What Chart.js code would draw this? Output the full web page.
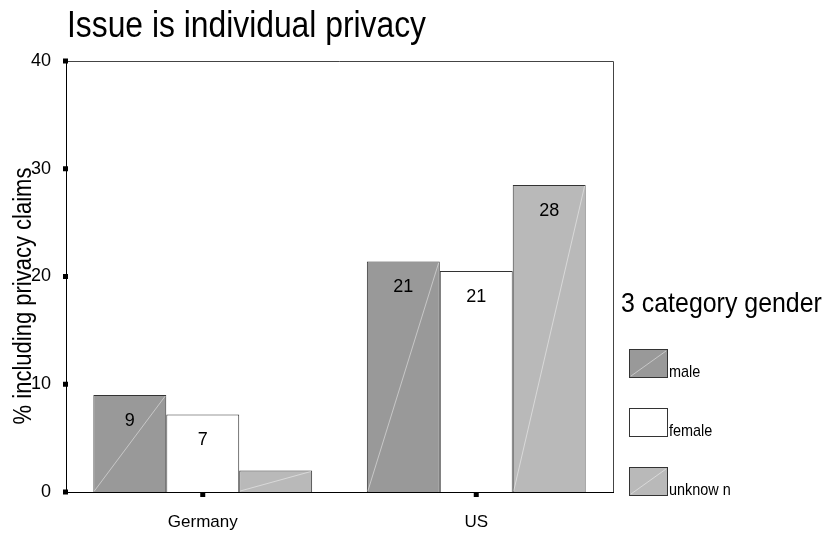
<!DOCTYPE html>
<html>
<head>
<meta charset="utf-8">
<script src="https://cdn.jsdelivr.net/npm/chart.js@4/dist/chart.umd.min.js"></script>
<style>
  html, body { margin: 0; padding: 0; background: #fff; }
  #wrap { width: 827px; height: 537px; }
</style>
</head>
<body>
<div id="wrap"><canvas id="privacyChart" width="827" height="537"></canvas></div>
<script>
// Data
const categories = ['Germany', 'US'];
const seriesNames = ['male', 'female', 'unknow n'];
const maleValues = [9.0, 21.4];
const femaleValues = [7.2, 20.5];
const unknownValues = [2.0, 28.5];
const maleLabels = ['9', '21'];
const femaleLabels = ['7', '21'];
const unknownLabels = ['', '28'];
const yTicks = [0, 10, 20, 30, 40];

const FONT = '"Liberation Sans", Arial, sans-serif';
const colors = ['#999999', '#ffffff', '#b9b9b9'];
const barLabels = [maleLabels, femaleLabels, unknownLabels];

// text squeezed horizontally, like the old SPSS output
function narrowText(c, text, x, y, size, sx, align) {
    c.save();
    c.font = size + 'px ' + FONT;
    c.translate(x, y);
    c.scale(sx, 1);
    c.textAlign = align || 'left';
    c.fillText(text, 0, 0);
    c.restore();
}

// Draws title, frame, tick squares, bar labels, hatch lines and legend
const decorations = {
    id: 'decorations',
    afterDatasetsDraw(chart) {
        const c = chart.ctx;
        const area = chart.chartArea;
        const yScale = chart.scales.y;
        const xScale = chart.scales.x;
        c.save();

        // diagonal hatch line in grey bars
        chart.data.datasets.forEach((ds, i) => {
            if (i === 1) return;
            chart.getDatasetMeta(i).data.forEach(bar => {
                const left = bar.x - bar.width / 2;
                const right = bar.x + bar.width / 2;
                c.strokeStyle = 'rgba(255,255,255,0.45)';
                c.lineWidth = 1;
                c.beginPath();
                c.moveTo(left + 1, bar.base - 1);
                c.lineTo(right - 1, bar.y + 1);
                c.stroke();
            });
        });

        // value labels inside bars
        c.fillStyle = '#000';
        c.font = '18px ' + FONT;
        c.textAlign = 'center';
        c.textBaseline = 'middle';
        chart.data.datasets.forEach((ds, i) => {
            chart.getDatasetMeta(i).data.forEach((bar, j) => {
                const txt = barLabels[i][j];
                if (txt) c.fillText(txt, bar.x, bar.y + 26);
            });
        });

        // frame: top and right
        c.strokeStyle = '#444';
        c.lineWidth = 1;
        c.beginPath();
        c.moveTo(area.left, area.top + 0.5);
        c.lineTo(area.right + 0.5, area.top + 0.5);
        c.lineTo(area.right + 0.5, area.bottom);
        c.stroke();

        // tick squares
        c.fillStyle = '#000';
        yTicks.forEach(v => {
            const py = yScale.getPixelForValue(v);
            c.fillRect(area.left - 3, py - 2.5, 5, 5);
        });
        categories.forEach((cat, j) => {
            const px = xScale.getPixelForValue(j);
            c.fillRect(px - 2.5, area.bottom, 5, 5);
        });

        // chart title
        c.fillStyle = '#000';
        c.textBaseline = 'alphabetic';
        narrowText(c, 'Issue is individual privacy', 67, 37, 37, 0.86);

        // y axis title (overlaps tick labels as in the original)
        c.save();
        c.translate(24, 296);
        c.rotate(-Math.PI / 2);
        c.textBaseline = 'middle';
        narrowText(c, '% including privacy claims', 0, 0, 25, 0.88, 'center');
        c.restore();

        // legend
        c.textBaseline = 'alphabetic';
        narrowText(c, '3 category gender', 621, 312, 28, 0.89);
        const boxTops = [349, 408, 467];
        seriesNames.forEach((name, i) => {
            const top = boxTops[i];
            c.fillStyle = colors[i];
            c.fillRect(629, top, 38, 28);
            c.strokeStyle = '#333';
            c.strokeRect(629.5, top + 0.5, 38, 28);
            if (i !== 1) {
                c.strokeStyle = 'rgba(255,255,255,0.45)';
                c.beginPath();
                c.moveTo(631, top + 27);
                c.lineTo(666, top + 2);
                c.stroke();
            }
            c.fillStyle = '#000';
            narrowText(c, name, 669, top + 28, 17, 0.85);
        });

        c.restore();
    }
};

const ctx = document.getElementById('privacyChart').getContext('2d');

const myChart = new Chart(ctx, {
    type: 'bar',
    data: {
        labels: categories,
        datasets: [
            { label: seriesNames[0], data: maleValues, backgroundColor: colors[0], borderColor: '#333', borderWidth: 1 },
            { label: seriesNames[1], data: femaleValues, backgroundColor: colors[1], borderColor: '#333', borderWidth: 1 },
            { label: seriesNames[2], data: unknownValues, backgroundColor: colors[2], borderColor: '#333', borderWidth: 1 }
        ]
    },
    options: {
        responsive: false,
        animation: false,
        devicePixelRatio: 1,
        layout: {
            padding: { top: 61, right: 214, left: 0, bottom: 0 }
        },
        datasets: {
            bar: { categoryPercentage: 0.8, barPercentage: 1.0 }
        },
        plugins: {
            legend: { display: false },
            title: { display: false },
            tooltip: { enabled: false }
        },
        scales: {
            y: {
                min: 0,
                max: 40,
                afterFit: s => { s.width = 66; },
                afterBuildTicks: s => { s.ticks = yTicks.map(v => ({ value: v })); },
                grid: { display: false, drawTicks: false },
                border: { display: true, color: '#000', width: 1 },
                ticks: {
                    color: '#000',
                    font: { family: FONT, size: 18 },
                    padding: 15
                }
            },
            x: {
                afterFit: s => { s.height = 45; },
                grid: { display: false, drawTicks: false },
                border: { display: true, color: '#000', width: 1 },
                ticks: {
                    color: '#000',
                    font: { family: FONT, size: 17 },
                    padding: 20
                }
            }
        }
    },
    plugins: [decorations]
});
</script>
</body>
</html>
